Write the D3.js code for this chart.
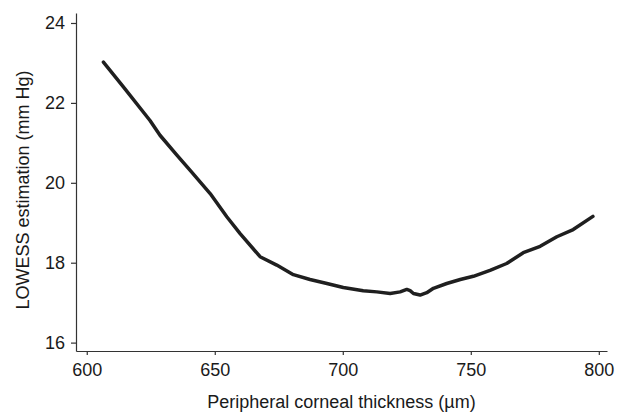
<!DOCTYPE html>
<html>
<head>
<meta charset="utf-8">
<script src="https://cdn.jsdelivr.net/npm/d3@7"></script>
<style>
	body { margin: 0; background: #fff; }
	svg { display: block; font-family: 'Liberation Sans', Arial, sans-serif; }
</style>
</head>
<body>
<svg id="chart"></svg>
<script>
const WIDTH = 619;
const HEIGHT = 414;
const MARGIN = { top: 13, right: 12, bottom: 63, left: 76 };

// LOWESS curve
const thickness = [606.5, 614.3, 624.7, 628.6, 635.2, 640.4, 648.2, 654.7, 659.9, 667.7, 674.2, 680.7, 687.2, 693.8, 700.2, 708, 713.3, 718.5, 722.4, 725, 726.3, 727.6, 728.9, 730.2, 732.8, 735.4, 740.6, 745.9, 751, 757.5, 764, 770.5, 777.1, 783.6, 790, 797.7];
const lowess = [23.02, 22.4, 21.56, 21.19, 20.69, 20.31, 19.73, 19.15, 18.73, 18.15, 17.94, 17.7, 17.58, 17.48, 17.38, 17.3, 17.27, 17.23, 17.27, 17.33, 17.3, 17.23, 17.21, 17.19, 17.25, 17.36, 17.48, 17.58, 17.66, 17.81, 17.98, 18.25, 18.41, 18.65, 18.83, 19.16];

const xTicks = [600, 650, 700, 750, 800];
const yTicks = [16, 18, 20, 22, 24];
const xLabel = 'Peripheral corneal thickness (\u00b5m)';
const yLabel = 'LOWESS estimation (mm Hg)';

const svg = d3.select('#chart').attr('width', WIDTH).attr('height', HEIGHT);

const x = d3.scaleLinear()
	.domain([595.8, 803.2])
	.range([MARGIN.left, WIDTH - MARGIN.right]);
const y = d3.scaleLinear()
	.domain([15.79, 24.25])
	.range([HEIGHT - MARGIN.bottom, MARGIN.top]);

const xAxis = svg.append('g')
	.attr('transform', `translate(0,${HEIGHT - MARGIN.bottom})`)
	.call(d3.axisBottom(x).tickValues(xTicks).tickSizeInner(4).tickSizeOuter(0).tickPadding(8));
const yAxis = svg.append('g')
	.attr('transform', `translate(${MARGIN.left},0)`)
	.call(d3.axisLeft(y).tickValues(yTicks).tickSizeInner(5).tickSizeOuter(0).tickPadding(6));

[xAxis, yAxis].forEach((g) => {
	g.select('.domain').attr('stroke', '#333').attr('stroke-width', 1.2);
	g.selectAll('.tick line').attr('stroke', '#333').attr('stroke-width', 1.2);
	g.selectAll('.tick text')
		.attr('fill', '#1a1a1a')
		.style('font-size', '18px')
		.style('font-family', "'Liberation Sans', Arial, sans-serif");
});

const points = thickness.map((t, i) => [t, lowess[i]]);

svg.append('path')
	.datum(points)
	.attr('fill', 'none')
	.attr('stroke', '#1f1f1f')
	.attr('stroke-width', 3.5)
	.attr('stroke-linejoin', 'round')
	.attr('stroke-linecap', 'round')
	.attr('d', d3.line().x((d) => x(d[0])).y((d) => y(d[1])));

// axis titles
svg.append('text')
	.attr('x', (MARGIN.left + WIDTH - MARGIN.right) / 2)
	.attr('y', 408)
	.attr('text-anchor', 'middle')
	.attr('fill', '#1a1a1a')
	.style('font-size', '18px')
	.text(xLabel);

svg.append('text')
	.attr('transform', `translate(29,${(MARGIN.top + HEIGHT - MARGIN.bottom) / 2 + 8}) rotate(-90)`)
	.attr('text-anchor', 'middle')
	.attr('fill', '#1a1a1a')
	.style('font-size', '18px')
	.text(yLabel);
</script>
</body>
</html>
